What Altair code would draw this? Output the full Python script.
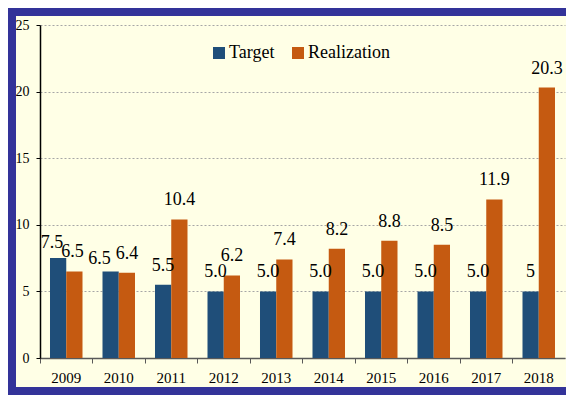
import altair as alt
import pandas as pd

years = ["2009", "2010", "2011", "2012", "2013", "2014", "2015", "2016", "2017", "2018"]
target = [7.5, 6.5, 5.5, 5.0, 5.0, 5.0, 5.0, 5.0, 5.0, 5.0]
realization = [6.5, 6.4, 10.4, 6.2, 7.4, 8.2, 8.8, 8.5, 11.9, 20.3]
target_labels = ["7.5", "6.5", "5.5", "5.0", "5.0", "5.0", "5.0", "5.0", "5.0", "5"]
realization_labels = ["6.5", "6.4", "10.4", "6.2", "7.4", "8.2", "8.8", "8.5", "11.9", "20.3"]
series = ["Target", "Realization"]
colors = ["#1F4E79", "#C55A11"]

# label nudges (as placed in the original, to avoid crowding)
nudges = [("2009", "Target", -6, 4), ("2010", "Target", -11, 7), ("2009", "Realization", -2, 0)]

rows = []
for i, yr in enumerate(years):
    rows.append({"year": yr, "series": "Target", "value": target[i], "label": target_labels[i]})
    rows.append({"year": yr, "series": "Realization", "value": realization[i], "label": realization_labels[i]})
df = pd.DataFrame(rows)

FONT = "Liberation Serif"

x = alt.X("year:N", sort=years,
          scale=alt.Scale(paddingInner=0, paddingOuter=0),
          axis=alt.Axis(title=None, bandPosition=0, labelAngle=0, labelFont=FONT,
                        labelFontSize=15, labelColor="black", domainColor="#595959",
                        tickColor="#595959", tickSize=5, labelPadding=7, domainWidth=1.5,
                        grid=False))
xoff = alt.XOffset("series:N", sort=series,
                   scale=alt.Scale(domain=series, paddingInner=0, paddingOuter=0.615))
y = alt.Y("value:Q", scale=alt.Scale(domain=[0, 25]),
          axis=alt.Axis(values=[0, 5, 10, 15, 20, 25], title=None, grid=True,
                        gridDash=[2, 2], gridColor="#A6A6A6", gridWidth=1,
                        domainColor="black", domainWidth=1.5, tickColor="black",
                        tickSize=4, labelFont=FONT, labelFontSize=14,
                        labelColor="black", labelPadding=7))
color = alt.Color("series:N", sort=series,
                  scale=alt.Scale(domain=series, range=colors),
                  legend=alt.Legend(title=None, orient="none", legendX=170, legendY=19,
                                    direction="horizontal", symbolType="square",
                                    symbolSize=144, symbolStrokeWidth=0,
                                    labelFont=FONT, labelFontSize=18, labelColor="black",
                                    columnPadding=14, labelOffset=1, padding=0))

bars = alt.Chart(df).mark_bar().encode(x=x, xOffset=xoff, y=y, color=color)

def is_nudged():
    conds = [f"(datum.year == '{yr}' && datum.series == '{s}')" for yr, s, _, _ in nudges]
    return " || ".join(conds)

text_layers = [
    alt.Chart(df).transform_filter(f"!({is_nudged()})").mark_text(
        baseline="alphabetic", dy=-14, font=FONT, fontSize=18, color="black").encode(
        x=x, xOffset=xoff, y=y, text="label:N")
]
for yr, s, ddx, ddy in nudges:
    text_layers.append(
        alt.Chart(df).transform_filter(f"datum.year == '{yr}' && datum.series == '{s}'").mark_text(
            baseline="alphabetic", dx=ddx, dy=-14 + ddy, font=FONT, fontSize=18,
            color="black").encode(x=x, xOffset=xoff, y=y, text="label:N"))

frame = alt.Chart(pd.DataFrame({"a": [0]})).mark_rect(
    fillOpacity=0, stroke="#333399", strokeWidth=8).encode(
    x=alt.value(-28), x2=alt.value(700), y=alt.value(-13), y2=alt.value(366))

chart = alt.layer(bars, *text_layers, frame).properties(
    width=525, height=333,
    padding={"left": 32, "top": 17, "right": 1, "bottom": 37},
    autosize=alt.AutoSizeParams(type="none"),
).configure(background="#FFFFE6").configure_view(strokeWidth=0)

chart.save("out.html", embed_options={"renderer": "svg", "actions": False})
